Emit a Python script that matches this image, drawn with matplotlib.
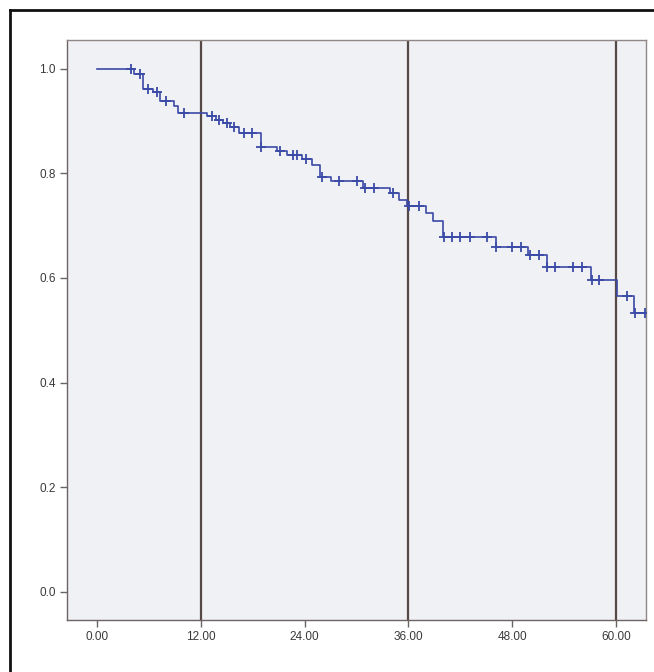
import matplotlib.pyplot as plt
from matplotlib.lines import Line2D
import numpy as np

plt.rcParams['font.family'] = ['Liberation Sans', 'DejaVu Sans']

# Kaplan-Meier steps: event times and survival after each step
event_t = [0, 4.3, 5.3, 6.4, 7.3, 8.9, 9.4, 12.7, 13.7, 14.6, 15.4, 16.4, 18.9,
           20.8, 22.0, 23.7, 24.9, 25.8, 27.0, 30.8, 33.9, 34.9, 35.9, 38.0,
           38.9, 40.0, 46.1, 49.9, 52.0, 57.1, 60.1, 62.1]
surv = [1.0, 0.990, 0.961, 0.955, 0.939, 0.928, 0.916, 0.910, 0.902, 0.896,
        0.889, 0.878, 0.851, 0.843, 0.836, 0.828, 0.816, 0.794, 0.785, 0.772,
        0.762, 0.750, 0.737, 0.724, 0.708, 0.678, 0.660, 0.644, 0.621, 0.597,
        0.565, 0.533]
t_end = 63.5

# censored observations
censor_t = [3.9, 4.9, 5.9, 6.9, 7.9, 10.0, 13.3, 14.1, 15.0, 15.8, 17.0, 17.9,
            19.0, 21.2, 22.6, 23.1, 24.1, 26.0, 28.0, 30.1, 31.0, 32.0, 34.2,
            36.1, 37.2, 40.1, 41.1, 42.0, 43.1, 45.1, 46.2, 48.0, 49.0, 50.1,
            51.1, 52.1, 53.0, 55.1, 56.1, 57.2, 58.1, 61.3, 62.2, 63.4]

ref_lines = [12, 36, 60]
x_ticks = [0, 12, 24, 36, 48, 60]
y_ticks = [0.0, 0.2, 0.4, 0.6, 0.8, 1.0]

fig = plt.figure(figsize=(6.54, 6.72), dpi=100)
fig.patch.set_facecolor('white')
ax = fig.add_axes([67/654, 1-620/672, 579/654, 580/672])
ax.set_facecolor('#eff1f4')

st = np.array(event_t + [t_end])
sv = np.array(surv + [surv[-1]])
ax.step(st, sv, where='post', color='#3b4aa6', lw=1.2, zorder=3)

idx = np.searchsorted(np.array(event_t), censor_t, side='right') - 1
cy = np.array(surv)[idx]
ax.plot(censor_t, cy, ls='none', marker='+', ms=7, mew=1.3,
        color='#3b4aa6', zorder=4)

for r in ref_lines:
    ax.axvline(r, color='#554845', lw=1.6, zorder=2)

ax.set_xlim(-3.5, 63.5)
ax.set_ylim(-0.054, 1.055)
ax.set_xticks(x_ticks)
ax.set_xticklabels(['%.2f' % v for v in x_ticks])
ax.set_yticks(y_ticks)
ax.set_yticklabels(['%.1f' % v for v in y_ticks])
ax.tick_params(direction='out', length=5, width=1, color='#6b6462',
               labelsize=8.5, labelcolor='#3a3a3a', pad=3)
for s in ax.spines.values():
    s.set_color('#8f8886')
    s.set_linewidth(1)
ax.spines['left'].set_color('#6b6462')
ax.spines['bottom'].set_color('#6b6462')

# outer frame (left and top visible)
fig.add_artist(Line2D([9.5/654, 9.5/654], [0, 1-9.5/672], color='#111111', lw=2))
fig.add_artist(Line2D([9.5/654, 1], [1-9.5/672, 1-9.5/672], color='#111111', lw=2))

fig.savefig('out.png', dpi=100)
